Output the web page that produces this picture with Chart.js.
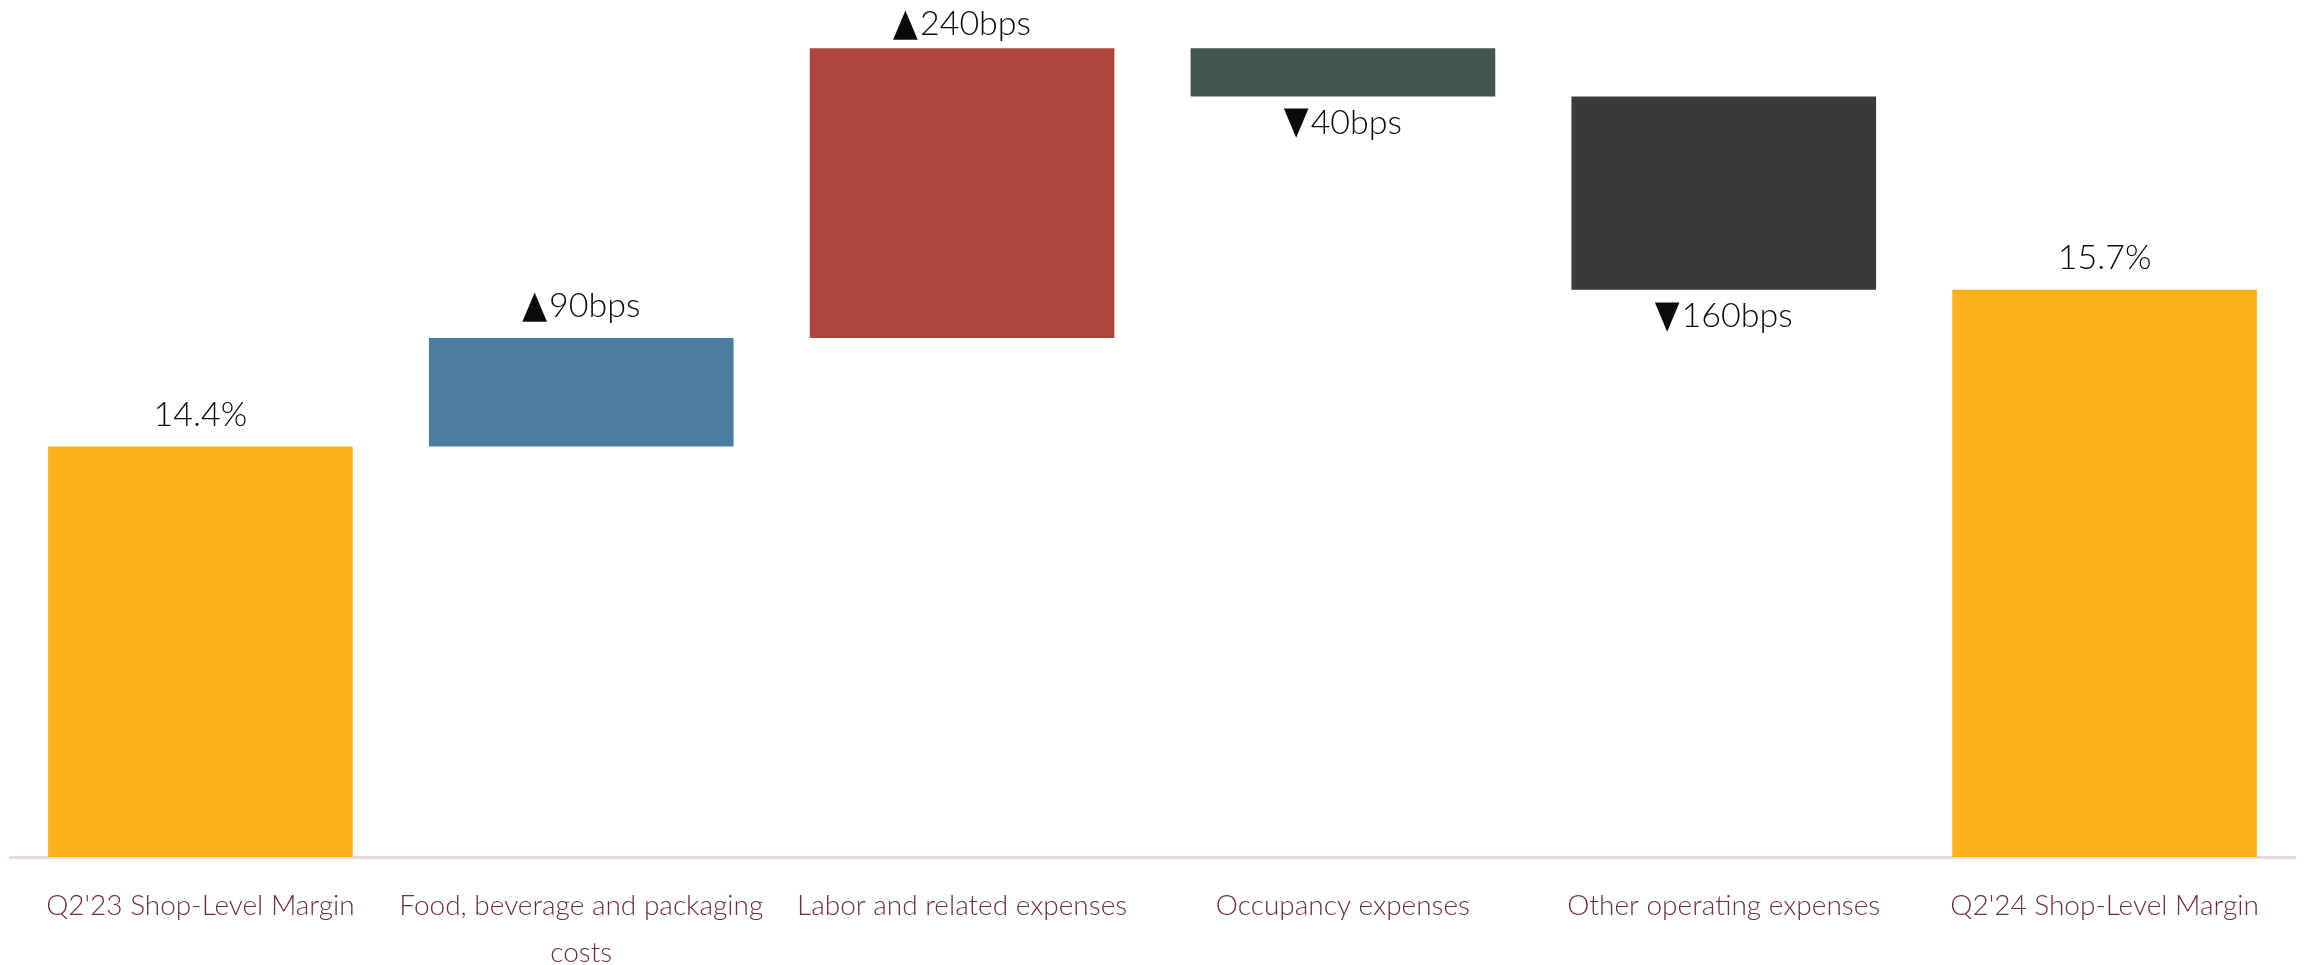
<!DOCTYPE html>
<html>
<head>
<meta charset="utf-8">
<script src="https://cdn.jsdelivr.net/npm/chart.js@4/dist/chart.umd.min.js"></script>
<style>
  html, body { margin: 0; padding: 0; background: #ffffff; }
  #wrap { width: 2305px; height: 965px; position: relative; }
</style>
</head>
<body>
<div id="wrap"><canvas id="chart"></canvas></div>
<script>
// categories along the x axis
const categories = [
    "Q2'23 Shop-Level Margin",
    ['Food, beverage and packaging', 'costs'],
    'Labor and related expenses',
    'Occupancy expenses',
    'Other operating expenses',
    "Q2'24 Shop-Level Margin"
];

// shop-level margin (%) at start and end
const startMargin = 14.4;
const endMargin = 15.7;

// changes between them in bps
const changesBps = [90, 240, -40, -160];

// labels shown next to each bar
const barLabels = ['14.4%', '▲90bps', '▲240bps', '▼40bps', '▼160bps', '15.7%'];

const barColors = ['#FBB11A', '#4A7D9F', '#AC463A', '#43564E', '#3A3A3A', '#FBB11A'];

// y axis is cut, the totals start at the bottom of it
const axisMin = 11;
const axisMax = 18.1;

// build floating ranges for the waterfall
const ranges = [[axisMin, startMargin]];
let running = startMargin;
changesBps.forEach(function (bps) {
    const next = Math.round((running + bps / 100) * 10) / 10;
    ranges.push([Math.min(running, next), Math.max(running, next)]);
    running = next;
});
ranges.push([axisMin, endMargin]);

// which labels go under the bar (decreases)
const labelBelow = [false].concat(changesBps.map(b => b < 0), [false]);

const textFont = '300 34px Lato, sans-serif';
const arrowFont = '38px "DejaVu Sans", sans-serif';

const valueLabels = {
    id: 'valueLabels',
    afterDatasetsDraw(chart) {
        const ctx = chart.ctx;
        const meta = chart.getDatasetMeta(0);
        ctx.save();
        ctx.fillStyle = '#0d0a0b';
        ctx.textBaseline = 'middle';
        ctx.textAlign = 'left';
        meta.data.forEach(function (bar, i) {
            const top = Math.min(bar.y, bar.base);
            const bottom = Math.max(bar.y, bar.base);
            let y = labelBelow[i] ? bottom + 26 : Math.max(top - 32, 24);
            let txt = barLabels[i];
            let arrow = '';
            if (txt[0] === '▲' || txt[0] === '▼') {
                arrow = txt[0];
                txt = txt.slice(1);
            }
            ctx.font = arrowFont;
            const aw = arrow ? ctx.measureText(arrow).width * 0.85 + 2 : 0;
            ctx.font = textFont;
            const tw = ctx.measureText(txt).width;
            let x = bar.x - (aw + tw) / 2;
            if (arrow) {
                ctx.font = arrowFont;
                ctx.save();
                ctx.translate(x, y + 1);
                ctx.scale(0.85, 1);
                ctx.fillText(arrow, 0, 0);
                ctx.restore();
                x += aw;
            }
            ctx.font = textFont;
            ctx.fillText(txt, x, y);
        });
        ctx.restore();
    }
};

new Chart(document.getElementById('chart'), {
    type: 'bar',
    data: {
        labels: categories,
        datasets: [{
            data: ranges,
            backgroundColor: barColors,
            borderWidth: 0,
            barPercentage: 0.8,
            categoryPercentage: 1.0
        }]
    },
    options: {
        responsive: true,
        maintainAspectRatio: false,
        animation: false,
        devicePixelRatio: 1,
        layout: { padding: { left: 10, right: 10, top: 0, bottom: 0 } },
        plugins: {
            legend: { display: false },
            tooltip: { enabled: false }
        },
        scales: {
            x: {
                grid: { display: false },
                border: { display: true, color: '#E8D6DD', width: 3 },
                ticks: {
                    color: '#6E2C48',
                    font: { family: 'Lato', size: 28, weight: 300, lineHeight: 1.7 },
                    maxRotation: 0,
                    autoSkip: false,
                    padding: 17
                },
                afterFit(scale) { scale.height = 108; }
            },
            y: {
                display: false,
                min: axisMin,
                max: axisMax
            }
        }
    },
    plugins: [valueLabels]
});
</script>
</body>
</html>
